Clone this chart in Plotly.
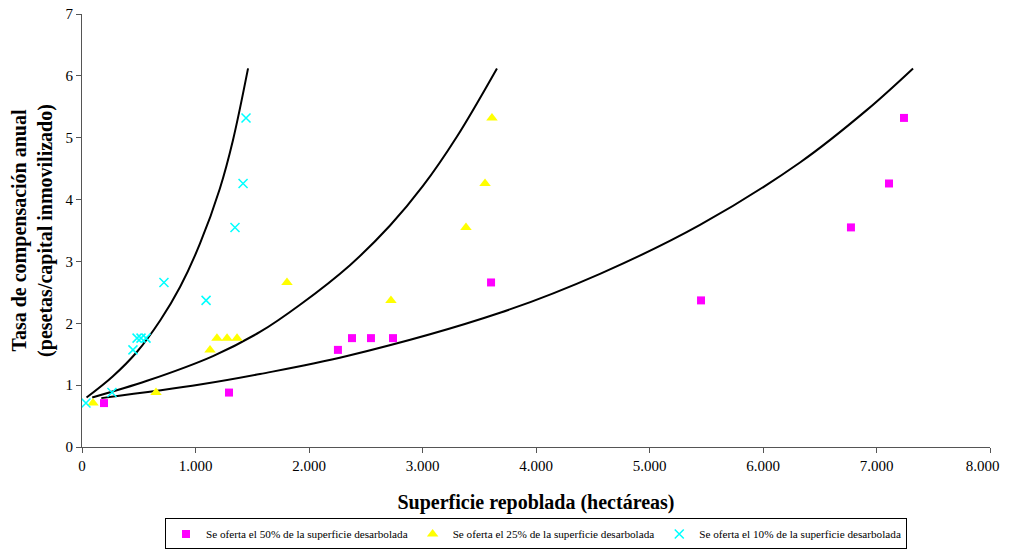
import plotly.graph_objects as go

# Data
rate = [0.71, 0.88, 1.57, 1.76, 1.76, 1.76, 2.66, 2.37, 3.55, 4.26, 5.32]
area_50 = [194, 1295, 2255, 2379, 2546, 2740, 3604, 5454, 6775, 7110, 7242]
area_25 = [97, 652, 1128, 1189, 1278, 1366, 1806, 2722, 3383, 3551, 3612]
area_10 = [35, 264, 449, 485, 520, 564, 722, 1093, 1348, 1419, 1445]

curve_10_x = [40, 270, 485, 690, 865, 1040, 1215, 1330, 1463]
curve_10_y = [0.80, 1.14, 1.54, 2.05, 2.59, 3.29, 4.18, 4.96, 6.12]
curve_25_x = [90, 573, 1154, 1568, 1921, 2361, 2714, 3004, 3304, 3656]
curve_25_y = [0.80, 1.07, 1.47, 1.86, 2.30, 2.94, 3.58, 4.22, 5.02, 6.12]
curve_50_x = [170, 1040, 1568, 2335, 3683, 4564, 5445, 6326, 6916, 7322]
curve_50_y = [0.79, 1.01, 1.18, 1.47, 2.17, 2.80, 3.59, 4.60, 5.45, 6.12]

x_tick_vals = [0, 1000, 2000, 3000, 4000, 5000, 6000, 7000, 8000]
# the last label carries trailing no-break spaces so it stays inside the visible window
x_tick_text = ["0", "1.000", "2.000", "3.000", "4.000", "5.000", "6.000", "7.000",
               "8.000\u00a0\u00a0\u00a0\u00a0"]
y_tick_vals = [0, 1, 2, 3, 4, 5, 6, 7]

names = ["Se oferta el 50% de la superficie desarbolada",
         "Se oferta el 25% de la superficie desarbolada",
         "Se oferta el 10% de la superficie desarbolada"]

fig = go.Figure()

for cx, cy in [(curve_10_x, curve_10_y), (curve_25_x, curve_25_y), (curve_50_x, curve_50_y)]:
    fig.add_trace(go.Scatter(x=cx, y=cy, mode="lines", line=dict(color="black", width=2, shape="spline", smoothing=1.0),
                             showlegend=False, hoverinfo="skip"))

fig.add_trace(go.Scatter(x=area_50, y=rate, mode="markers", name=names[0],
                         marker=dict(symbol="square", size=8, color="#FF00FF", line=dict(width=0))))
fig.add_trace(go.Scatter(x=area_25, y=rate, mode="markers", name=names[1],
                         marker=dict(symbol="triangle-up", size=10, color="#FFFF00", line=dict(width=0))))
fig.add_trace(go.Scatter(x=area_10, y=rate, mode="markers", name=names[2],
                         marker=dict(symbol="x-thin", size=9, color="#00FFFF", line=dict(width=1.5, color="#00FFFF"))))

font_family = "Liberation Serif, Times New Roman, serif"

# The page body has an 8px margin, so the figure is offset by 8px inside the window.
fig.update_layout(
    width=1001, height=548,
    margin=dict(l=74, r=19, t=6, b=105),
    paper_bgcolor="white", plot_bgcolor="white",
    font=dict(family=font_family, size=15, color="black"),
    showlegend=True,
    legend=dict(orientation="h", x=0.5, xanchor="center", y=-0.165, yanchor="top",
                bordercolor="black", borderwidth=1, font=dict(size=11.2, family=font_family),
                itemwidth=30, tracegroupgap=0, bgcolor="white"),
    xaxis=dict(range=[0, 8000], tickvals=x_tick_vals, ticktext=x_tick_text, automargin=False,
               ticklabeloverflow="allow",
               showgrid=False, zeroline=False, showline=True, linecolor="#555555", linewidth=1,
               ticks="outside", ticklen=5, tickcolor="#555555",
               title=dict(text="<b>Superficie repoblada (hectáreas)</b>", font=dict(size=20), standoff=21)),
    yaxis=dict(range=[0, 7], tickvals=y_tick_vals, automargin=False,
               ticklabeloverflow="allow",
               showgrid=False, zeroline=False, showline=True, linecolor="#555555", linewidth=1,
               ticks="outside", ticklen=5, tickcolor="#555555",
               title=dict(text="<b>Tasa de compensación anual<br>(pesetas/capital inmovilizado)</b>",
                          font=dict(size=20), standoff=10)),
)

fig.write_html("out.html")
